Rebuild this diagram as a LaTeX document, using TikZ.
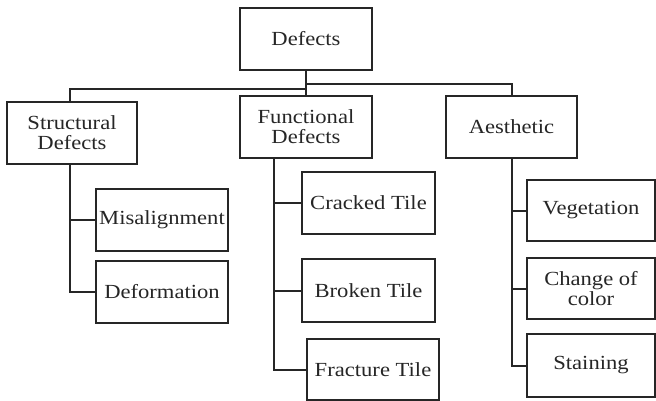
\documentclass[tikz,border=0pt]{standalone}
\usepackage{fontspec}
\setmainfont{Liberation Serif}[FakeStretch=1.13]

\begin{document}
\begin{tikzpicture}[x=1pt,y=-1pt,line width=2pt,draw=black!85,
  box/.style={draw=black!85,inner sep=0pt,minimum width=132pt,minimum height=62pt,align=center,text=black!85,font=\fontsize{20}{20}\selectfont}]
\useasboundingbox (0,0) rectangle (656,401);

\node[box] (defects) at (306,39) {Defects};
\node[box,minimum width=130pt] (structural) at (72,133) {Structural\\Defects};
\node[box] (functional) at (306,127) {Functional\\Defects};
\node[box,minimum width=131pt] (aesthetic) at (511.5,127) {Aesthetic};

\node[box] (misalign) at (162,220) {Misalignment};
\node[box] (deform) at (162,292) {Deformation};
\node[box,minimum width=133pt] (cracked) at (368.5,203) {Cracked Tile};
\node[box,minimum width=133pt,minimum height=63pt] (broken) at (368.5,290.5) {Broken Tile};
\node[box,minimum height=61pt] (fracture) at (373,369.5) {Fracture Tile};
\node[box,minimum width=128pt,minimum height=61pt] (veget) at (591,210.5) {Vegetation};
\node[box,minimum width=128pt,minimum height=61pt] (colour) at (591,288.5) {Change of\\color};
\node[box,minimum width=128pt,minimum height=63pt] (stain) at (591,365.5) {Staining};

\draw (defects.south) -- (functional.north);
\draw (defects.south) ++(0,18) -| ([xshift=-2pt]structural.north);
\draw (defects.south) ++(0,13) -| (aesthetic.north);

\draw ([xshift=-2pt]structural.south) |- (misalign.west);
\draw ([xshift=-2pt]structural.south) |- (deform.west);
\draw ([xshift=-32pt]functional.south) |- (cracked.west);
\draw ([xshift=-32pt]functional.south) |- (broken.west);
\draw ([xshift=-32pt]functional.south) |- (fracture.west);
\draw (aesthetic.south) |- (veget.west);
\draw (aesthetic.south) |- (colour.west);
\draw (aesthetic.south) |- (stain.west);
\end{tikzpicture}
\end{document}
